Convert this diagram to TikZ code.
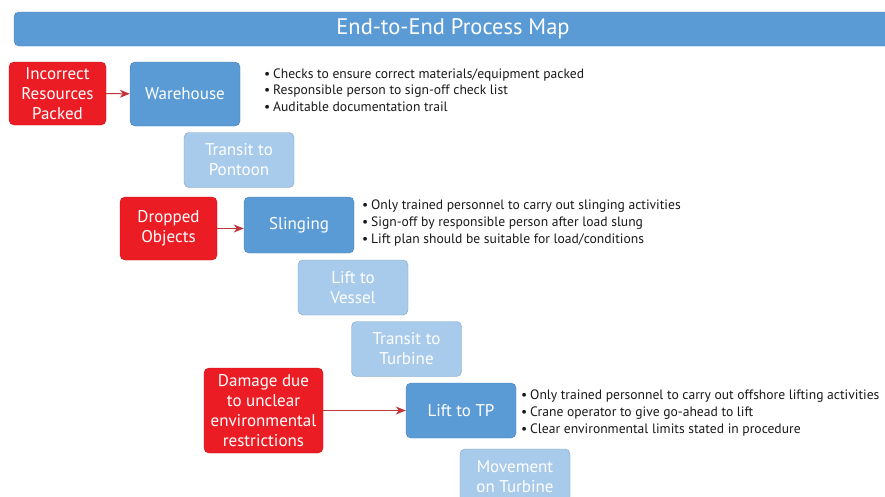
\documentclass[tikz,border=0pt]{standalone}
\usepackage{fontspec}
\setmainfont{PT Sans}
\usetikzlibrary{arrows.meta}

\definecolor{mapblue}{HTML}{5B9BD5}
\definecolor{mapbluedark}{HTML}{4A7EB0}
\definecolor{maplight}{HTML}{A9CBEB}
\definecolor{maplightdark}{HTML}{7F9FC2}
\definecolor{hazardred}{HTML}{EC1C24}
\definecolor{hazarddark}{HTML}{C8141B}
\definecolor{arrowred}{HTML}{C0353A}

\newcommand{\bul}{\makebox[9pt][l]{•}}

\tikzset{
  stage/.style={draw=mapbluedark,fill=mapblue,rounded corners=5pt,text=white,
    minimum width=110pt,minimum height=55pt,align=center,inner sep=2pt,
    font=\fontsize{17}{20}\selectfont},
  later/.style={stage,draw=maplightdark,fill=maplight},
  hazard/.style={stage,draw=hazarddark,fill=hazardred,minimum width=97pt,minimum height=63pt},
  notes/.style={anchor=west,align=left,inner sep=0pt,text=black!90,
    font=\fontsize{13.6}{16.6}\selectfont},
  cause/.style={draw=arrowred,line width=1pt,-{Stealth[length=10pt,width=8pt,inset=3pt]}}
}

\begin{document}
\begin{tikzpicture}[x=1pt,y=-1pt]
\useasboundingbox (0,0) rectangle (885,496);
\clip (0,0) rectangle (885,496);
\fill[white] (0,0) rectangle (885,496);

% title bar
\draw[draw=mapbluedark,fill=mapblue,rounded corners=5pt] (14,12) rectangle (930,46);
\node[text=white,font=\fontsize{22.5}{24}\selectfont] (title) at (453,29) {End-to-End Process Map};

% process steps
\node[stage,minimum height=64pt] (warehouse) at (185,94) {Warehouse};
\node[later] (pontoon) at (239,160) {Transit to\\Pontoon};
\node[stage,minimum height=56pt] (slinging) at (299,225) {Slinging};
\node[later] (vessel) at (353,287.5) {Lift to\\Vessel};
\node[later] (turbine) at (406.5,349) {Transit to\\Turbine};
\node[stage] (lifttp) at (461,410.5) {Lift to TP};
\node[later] (movement) at (515,476.5) {Movement\\on Turbine};

% hazards
\node[hazard] (incorrect) at (57.5,93.5) {Incorrect\\Resources\\Packed};
\node[hazard] (dropped) at (168.5,228.5) {Dropped\\Objects};
\node[hazard,minimum width=119pt,minimum height=85pt] (damage) at (263.5,410.5) {Damage due\\to unclear\\environmental\\restrictions};

\draw[cause] (incorrect) -- (warehouse);
\draw[cause] (dropped.east) -- (dropped.east -| slinging.west);
\draw[cause] (damage) -- (lifttp);

% controls
\node[notes] (whnotes) at (264,90) {\bul Checks to ensure correct materials/equipment packed\\
  \bul Responsible person to sign-off check list\\
  \bul Auditable documentation trail};
\node[notes] (slnotes) at (362,223) {\bul Only trained personnel to carry out slinging activities\\
  \bul Sign-off by responsible person after load slung\\
  \bul Lift plan should be suitable for load/conditions};
\node[notes] (tpnotes) at (521,413) {\bul Only trained personnel to carry out offshore lifting activities\\
  \bul Crane operator to give go-ahead to lift\\
  \bul Clear environmental limits stated in procedure};

\end{tikzpicture}
\end{document}
